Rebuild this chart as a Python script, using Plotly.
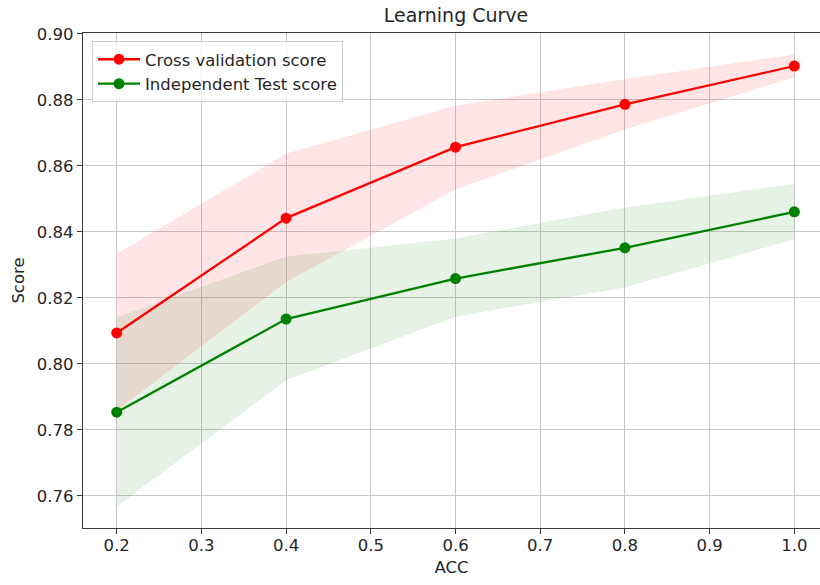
import plotly.graph_objects as go

# Data
train_sizes = [0.2, 0.4, 0.6, 0.8, 1.0]
cv_mean = [0.8094, 0.8442, 0.8657, 0.8787, 0.8903]
cv_upper = [0.8333, 0.8636, 0.8782, 0.8862, 0.8937]
cv_lower = [0.7860, 0.8250, 0.8530, 0.8712, 0.8870]
test_mean = [0.7854, 0.8136, 0.8259, 0.8352, 0.8461]
test_upper = [0.8140, 0.8324, 0.8379, 0.8473, 0.8545]
test_lower = [0.7570, 0.7952, 0.8145, 0.8233, 0.8379]

series_names = ["Cross validation score", "Independent Test score"]
title_text = "Learning Curve"
x_label = "ACC"
y_label = "Score"
x_ticks = [0.2, 0.3, 0.4, 0.5, 0.6, 0.7, 0.8, 0.9, 1.0]
y_ticks = [0.76, 0.78, 0.80, 0.82, 0.84, 0.86, 0.88, 0.90]

FONT = "DejaVu Sans"
TXT = "#262626"

fig = go.Figure()

# bands
fig.add_trace(go.Scatter(x=train_sizes, y=cv_lower, mode="lines",
                         line=dict(width=0.5, color="rgba(255,0,0,0.1)"),
                         showlegend=False, hoverinfo="skip"))
fig.add_trace(go.Scatter(x=train_sizes, y=cv_upper, mode="lines", fill="tonexty",
                         fillcolor="rgba(255,0,0,0.1)",
                         line=dict(width=0.5, color="rgba(255,0,0,0.1)"),
                         showlegend=False, hoverinfo="skip"))
fig.add_trace(go.Scatter(x=train_sizes, y=test_lower, mode="lines",
                         line=dict(width=0.5, color="rgba(0,128,0,0.1)"),
                         showlegend=False, hoverinfo="skip"))
fig.add_trace(go.Scatter(x=train_sizes, y=test_upper, mode="lines", fill="tonexty",
                         fillcolor="rgba(0,128,0,0.1)",
                         line=dict(width=0.5, color="rgba(0,128,0,0.1)"),
                         showlegend=False, hoverinfo="skip"))

# lines
fig.add_trace(go.Scatter(x=train_sizes, y=cv_mean, mode="lines+markers",
                         name=series_names[0],
                         line=dict(color="#ff0000", width=2.3),
                         marker=dict(color="#ff0000", size=11)))
fig.add_trace(go.Scatter(x=train_sizes, y=test_mean, mode="lines+markers",
                         name=series_names[1],
                         line=dict(color="#008000", width=2.3),
                         marker=dict(color="#008000", size=11)))

W, H = 820, 585
L, R, T, B = 83, 0, 33, 57
pw = W - L - R
ph = H - T - B

fig.update_layout(
    width=W, height=H,
    margin=dict(l=L, r=R, t=T, b=B, pad=0),
    paper_bgcolor="white", plot_bgcolor="white",
    font=dict(family=FONT, size=16, color=TXT),
    title=dict(text=title_text, font=dict(family=FONT, size=19, color=TXT),
               xref="paper", x=(456 - L) / pw, xanchor="center",
               yref="container", y=1 - 15.5 / H, yanchor="middle"),
    showlegend=True,
    legend=dict(x=(92 - L) / pw, y=1 - (41 - T) / ph, xanchor="left", yanchor="top",
                bgcolor="rgba(255,255,255,0.8)", bordercolor="#cccccc", borderwidth=1,
                font=dict(family=FONT, size=16.5, color=TXT),
                traceorder="normal", tracegroupgap=0, itemwidth=42),
    xaxis=dict(range=[0.1602, 1.0303], tickvals=x_ticks,
               ticktext=[f"{v:.1f}" for v in x_ticks],
               showgrid=True, gridcolor="#c8c8c8", gridwidth=1.3,
               showline=True, linecolor="#3a3a3a", linewidth=1.3, mirror=True,
               ticks="outside", ticklen=5, tickwidth=1.3, tickcolor="#3a3a3a",
               ticklabelstandoff=-3,
               tickfont=dict(family=FONT, size=16.5, color=TXT),
               title=dict(text=x_label, standoff=7, font=dict(family=FONT, size=16.5, color=TXT)),
               zeroline=False, automargin=False),
    yaxis=dict(range=[0.7503, 0.9003], tickvals=y_ticks,
               ticktext=[f"{v:.2f}" for v in y_ticks],
               showgrid=True, gridcolor="#c8c8c8", gridwidth=1.3,
               showline=True, linecolor="#3a3a3a", linewidth=1.3, mirror=False,
               ticks="outside", ticklen=5, tickwidth=1.3, tickcolor="#3a3a3a",
               tickfont=dict(family=FONT, size=16.5, color=TXT),
               title=dict(text=y_label, standoff=8, font=dict(family=FONT, size=16.5, color=TXT)),
               zeroline=False, automargin=False),
)

# remove the browser's default 8px body margin so the figure sits at the page origin
fig.write_html("out.html", config={"displayModeBar": False},
               post_script="document.body.style.margin='0';")
